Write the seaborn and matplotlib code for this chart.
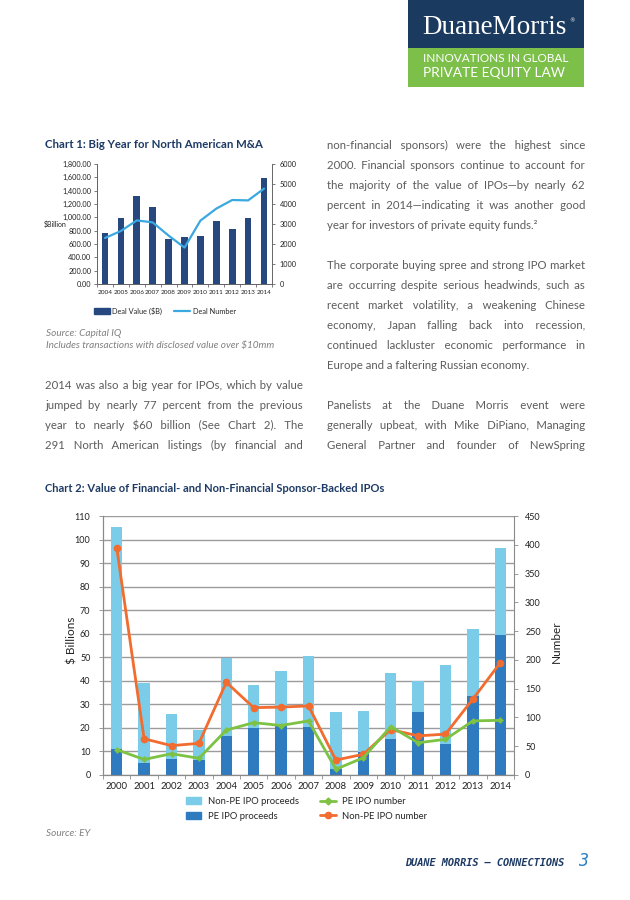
import numpy as np
import pandas as pd
import seaborn as sns
import matplotlib
matplotlib.use("Agg")
import matplotlib.pyplot as plt
from matplotlib.patches import Patch, Rectangle
from matplotlib.lines import Line2D
from matplotlib.ticker import FixedLocator

# ---- data: Chart 1 (North American M&A) ----
ma_years = ["2004", "2005", "2006", "2007", "2008", "2009", "2010", "2011", "2012", "2013", "2014"]
deal_value = [765, 995, 1315, 1155, 680, 710, 725, 950, 830, 995, 1585]          # $B
deal_number = [2300, 2650, 3180, 3080, 2420, 1820, 3170, 3770, 4200, 4180, 4770]

# ---- data: Chart 2 (IPOs) ----
ipo_years = ["2000", "2001", "2002", "2003", "2004", "2005", "2006", "2007",
             "2008", "2009", "2010", "2011", "2012", "2013", "2014"]
pe_proceeds = [10.9, 5.0, 6.6, 6.4, 16.5, 20.1, 20.8, 20.2, 2.6, 9.8, 15.1, 26.7, 13.0, 33.7, 59.4]
non_pe_proceeds = [94.6, 34.2, 19.3, 12.7, 33.4, 18.1, 23.2, 30.3, 24.3, 17.5, 28.3, 13.3, 33.8, 28.1, 36.8]
pe_number = [44, 27, 37, 29, 78, 91, 86, 94, 10, 30, 84, 56, 62, 94, 95]
non_pe_number = [395, 63, 51, 55, 161, 117, 118, 120, 26, 36, 79, 68, 71, 132, 195]

# ---- text ----
left_col = ["2014 was also a big year for IPOs, which by value",
            "jumped by nearly 77 percent from the previous",
            "year to nearly $60 billion (See Chart 2). The",
            "291 North American listings (by financial and"]
right_p1 = ["non-financial sponsors) were the highest since",
            "2000. Financial sponsors continue to account for",
            "the majority of the value of IPOs\u2014by nearly 62",
            "percent in 2014\u2014indicating it was another good",
            "year for investors of private equity funds.\u00b2"]
right_p2 = ["The corporate buying spree and strong IPO market",
            "are occurring despite serious headwinds, such as",
            "recent market volatility, a weakening Chinese",
            "economy, Japan falling back into recession,",
            "continued lackluster economic performance in",
            "Europe and a faltering Russian economy."]
right_p3 = ["Panelists at the Duane Morris event were",
            "generally upbeat, with Mike DiPiano, Managing",
            "General Partner and founder of NewSpring"]

sns.set_theme(style="white")
plt.rcParams["font.family"] = ["Lato", "DejaVu Sans"]

W, H = 630, 900
fig = plt.figure(figsize=(W / 100, H / 100), dpi=100)
fig.patch.set_facecolor("white")
R = fig.canvas.get_renderer()

NAVY = "#1d3a64"
BODY = "#5c5c5c"


def fx(x):
    return x / W


def fy(y):
    return 1 - y / H


def rect(l, t, r, b):
    return [l / W, 1 - b / H, (r - l) / W, (b - t) / H]


def put(x, y, s, width=None, **kw):
    kw.setdefault("parse_math", False)
    t = fig.text(fx(x), fy(y), s, **kw)
    if width:
        w = t.get_window_extent(R).width
        t.set_fontsize(t.get_fontsize() * width / w)
    return t


def text_w(s, size):
    t = fig.text(0, 0, s, fontsize=size, parse_math=False)
    w = t.get_window_extent(R).width
    t.remove()
    return w


def justify(lines, x0, x1, y0, dy, last_left, size):
    # one text per line; gaps padded with hair spaces so the line fills the column
    sp = text_w("a a", size) - text_w("aa", size)
    hs = text_w("a\u200aa", size) - text_w("aa", size)
    for i, line in enumerate(lines):
        words = line.split(" ")
        s = line
        if not (last_left and i == len(lines) - 1):
            extra = (x1 - x0 - text_w(line, size)) / (len(words) - 1)
            s, acc, done = words[0], 0.0, 0
            for wd in words[1:]:
                acc += extra
                k = max(int(round(acc / hs)) - done, 0)
                done += k
                s += " " + "\u200a" * k + wd
        put(x0, y0 + i * dy, s, fontsize=size, color=BODY, va="baseline")


# ---- logo ----
fig.add_artist(Rectangle((fx(408), fy(48)), 176 / W, 48 / H, transform=fig.transFigure, color="#1b3a5f", lw=0))
fig.add_artist(Rectangle((fx(408), fy(87)), 176 / W, 39 / H, transform=fig.transFigure, color="#7cc04a", lw=0))
put(422, 28, "DuaneMorris", width=145, family="Liberation Serif", color="white", va="center", fontsize=20)
put(569, 21, "\u00ae", color="white", va="center", fontsize=4, family="DejaVu Sans")
put(423, 59, "INNOVATIONS IN GLOBAL", width=144, color="white", va="center", fontsize=10)
put(423, 73, "PRIVATE EQUITY LAW", width=142, color="white", va="center", fontsize=10)

# ---- body text: size so the widest justified line fits with normal spaces ----
widest = max(text_w(l, 10) for l in left_col + right_p1[:-1] + right_p2[:-1] + right_p3)
body_size = 10 * 255 / widest
justify(left_col, 45, 303, 389, 20, False, body_size)
justify(right_p1, 327, 585, 149, 20, True, body_size)
justify(right_p2, 327, 585, 269, 20, True, body_size)
justify(right_p3, 327, 585, 409, 20, False, body_size)

# ---- chart 1 ----
put(45, 145, "Chart 1: Big Year for North American M&A", width=217, color=NAVY,
    fontweight="bold", va="center", fontsize=9)
ax1 = fig.add_axes(rect(97, 164, 272, 284))
df1 = pd.DataFrame({"year": ma_years, "value": deal_value, "number": deal_number})
sns.barplot(data=df1, x="year", y="value", color="#27487f", saturation=1, width=0.42,
            errorbar=None, linewidth=0, ax=ax1)
ax1b = ax1.twinx()
sns.lineplot(x=df1.index, y=df1["number"], color="#3aa8e1", linewidth=1.6, ax=ax1b)
ax1.set_xlim(-0.5, len(ma_years) - 0.5)
ax1.set_ylim(0, 1800)
ax1b.set_ylim(0, 6000)
ax1.set_yticks(np.arange(0, 1801, 200))
ax1.set_yticklabels([f"{v:,.2f}" for v in np.arange(0, 1801, 200)])
ax1b.set_yticks(np.arange(0, 6001, 1000))
ax1.set_xlabel("")
ax1.set_ylabel("")
ax1b.set_ylabel("")
for a in (ax1, ax1b):
    for s in a.spines.values():
        s.set_color("#666666")
        s.set_linewidth(0.7)
    a.spines["top"].set_visible(False)
ax1.spines["right"].set_visible(False)
ax1.tick_params(axis="y", direction="out", length=2.5, width=0.6, color="#666666",
                labelsize=5.3, pad=1.5, left=True, labelcolor="#222222")
ax1b.tick_params(axis="y", direction="out", length=2.5, width=0.6, color="#666666",
                 labelsize=5.3, pad=3, right=True, labelcolor="#222222")
ax1.tick_params(axis="x", which="major", length=0, labelsize=4.6, pad=4, labelcolor="#222222")
ax1.xaxis.set_minor_locator(FixedLocator(np.arange(-0.5, len(ma_years), 1)))
ax1.tick_params(axis="x", which="minor", bottom=True, direction="out", length=2.5, width=0.6, color="#666666")
put(44, 224, "$Billion", color="#222222", va="center", fontsize=5.0)
fig.legend(handles=[Patch(color="#27487f"), Line2D([], [], color="#3aa8e1", lw=1.6)],
           labels=["Deal Value ($B)", "Deal Number"], loc="center left",
           bbox_to_anchor=(fx(94), fy(311)), ncol=2, frameon=False, fontsize=5.3,
           handlelength=2.2, handleheight=0.8, handletextpad=0.3, columnspacing=1.6,
           borderpad=0, borderaxespad=0)
put(46, 333, "Source: Capital IQ", color="#808080", style="italic", va="center", fontsize=7.2)
put(46, 346, "Includes transactions with disclosed value over $10mm", color="#808080",
    style="italic", va="center", fontsize=7.2)

# ---- chart 2 ----
put(45, 488, "Chart 2: Value of Financial- and Non-Financial Sponsor-Backed IPOs", width=340,
    color=NAVY, fontweight="bold", va="center", fontsize=9)
ax2 = fig.add_axes(rect(103, 516, 514, 775))
df2 = pd.DataFrame({"year": ipo_years, "pe": pe_proceeds, "non_pe": non_pe_proceeds,
                    "pe_n": pe_number, "non_pe_n": non_pe_number})
df2["total"] = df2["pe"] + df2["non_pe"]
sns.barplot(data=df2, x="year", y="total", color="#7acce8", saturation=1, width=0.42,
            errorbar=None, linewidth=0, ax=ax2)
sns.barplot(data=df2, x="year", y="pe", color="#2f7bbf", saturation=1, width=0.42,
            errorbar=None, linewidth=0, ax=ax2)
ax2b = ax2.twinx()
sns.lineplot(x=df2.index, y=df2["non_pe_n"], color="#f26b2f", linewidth=2, marker="o",
             markersize=5.5, markeredgewidth=0, ax=ax2b)
sns.lineplot(x=df2.index, y=df2["pe_n"], color="#7dc243", linewidth=2, marker="D",
             markersize=3.5, markeredgewidth=0, ax=ax2b)
ax2.set_xlim(-0.5, len(ipo_years) - 0.5)
ax2.set_ylim(0, 110)
ax2b.set_ylim(0, 450)
ax2.set_yticks(np.arange(0, 111, 10))
ax2b.set_yticks(np.arange(0, 451, 50))
ax2.set_axisbelow(True)
ax2.yaxis.grid(True, color="#9c9c9c", linewidth=1.0)
ax2.set_xlabel("")
ax2.set_ylabel("")
ax2b.set_ylabel("")
for a in (ax2, ax2b):
    for s in a.spines.values():
        s.set_color("#8a8a8a")
        s.set_linewidth(0.8)
    a.spines["top"].set_visible(False)
ax2.spines["right"].set_visible(False)
ax2.tick_params(axis="y", direction="out", length=3, width=0.6, color="#8a8a8a",
                labelsize=6.5, pad=6, left=True, labelcolor="#222222")
ax2b.tick_params(axis="y", direction="out", length=3, width=0.6, color="#8a8a8a",
                 labelsize=6.5, pad=5, right=True, labelcolor="#222222")
ax2.tick_params(axis="x", which="major", length=0, labelsize=6.8, pad=5, labelcolor="#222222")
ax2.xaxis.set_minor_locator(FixedLocator(np.arange(-0.5, len(ipo_years), 1)))
ax2.tick_params(axis="x", which="minor", bottom=True, direction="out", length=3, width=0.6, color="#8a8a8a")
put(72, 640, "$ Billions", color="#222222", rotation=90, va="center", ha="center", fontsize=8.5)
put(556, 642, "Number", color="#222222", rotation=90, va="center", ha="center", fontsize=8.5)
fig.legend(handles=[Patch(color="#7acce8"), Patch(color="#2f7bbf"),
                    Line2D([], [], color="#7dc243", lw=2, marker="D", markersize=3.5),
                    Line2D([], [], color="#f26b2f", lw=2, marker="o", markersize=4.5)],
           labels=["Non-PE IPO proceeds", "PE IPO proceeds", "PE IPO number", "Non-PE IPO number"],
           loc="upper left", bbox_to_anchor=(fx(186), fy(797)), ncol=2, frameon=False,
           fontsize=6.8, handlelength=1.6, handleheight=0.7, handletextpad=0.7,
           columnspacing=2.3, labelspacing=0.6, borderpad=0, borderaxespad=0)
put(46, 833, "Source: EY", color="#808080", style="italic", va="center", fontsize=7.2)

# ---- footer ----
put(405, 863, "DUANE MORRIS \u2014 CONNECTIONS", width=162, family="DejaVu Sans Mono",
    style="italic", fontweight="bold", color=NAVY, va="center", fontsize=8)
put(578, 861, "3", color="#2b80c4", style="italic", va="center", fontsize=12, family="DejaVu Sans Mono")

fig.savefig("out.png", dpi=100)
